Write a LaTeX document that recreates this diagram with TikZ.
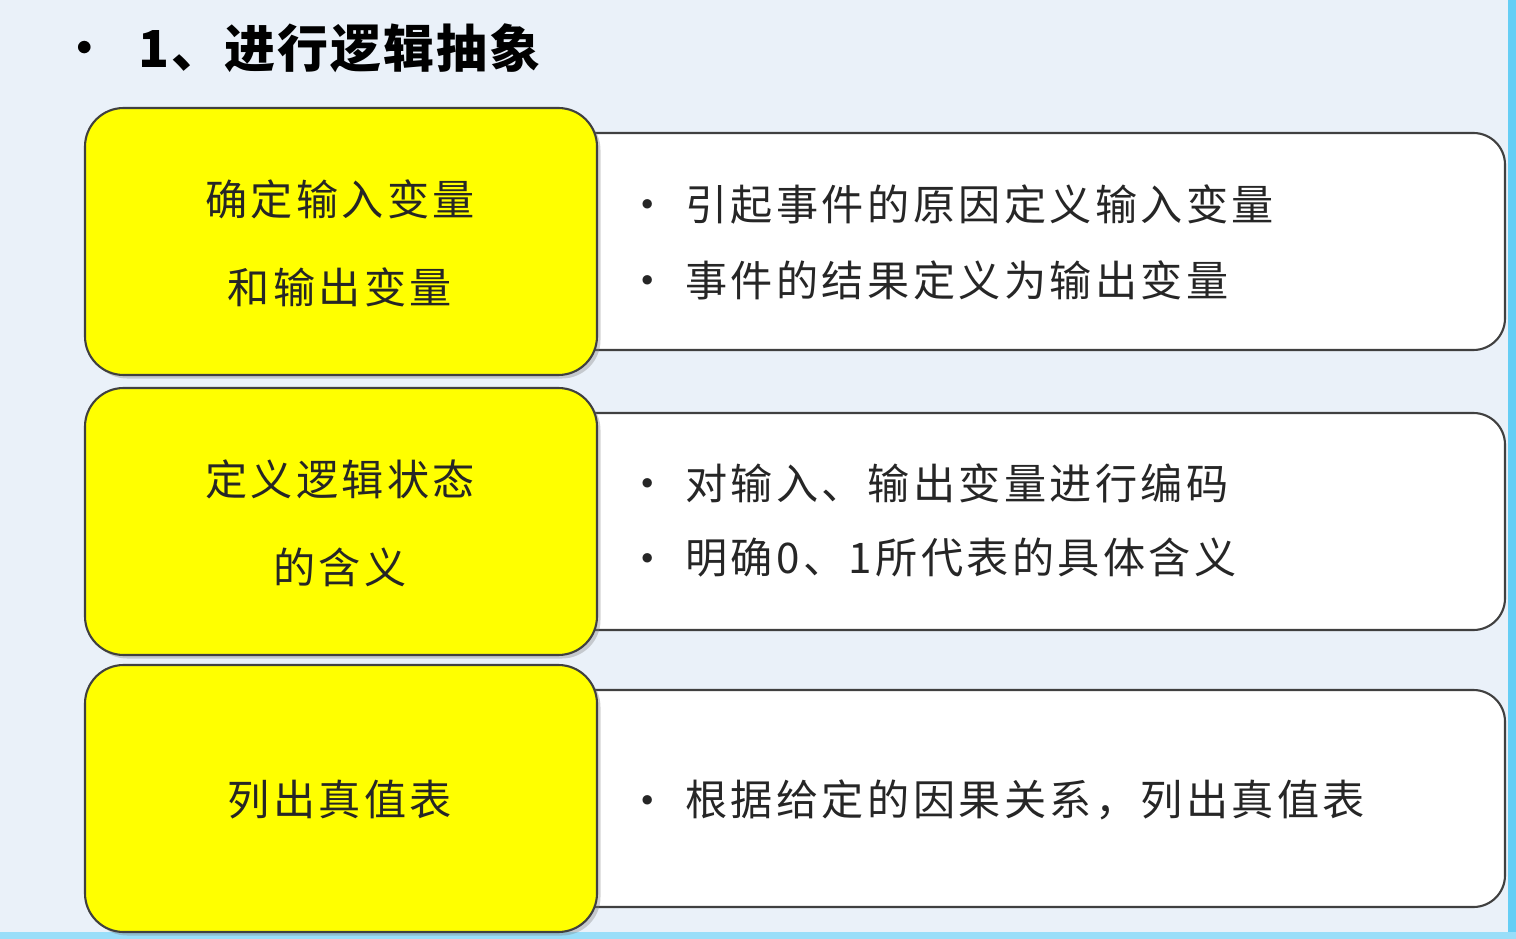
\documentclass[tikz,border=0pt]{standalone}
\usepackage{fontspec}
\newfontfamily\cjk[LetterSpace=8]{Noto Sans CJK SC}
\newfontfamily\cjkt[LetterSpace=4]{Noto Sans CJK SC}
\usetikzlibrary{shadows}
\definecolor{bg}{HTML}{EAF1F9}
\definecolor{ylw}{HTML}{FFFF00}
\tikzset{
 ybox/.style={draw=black!75,line width=1.2pt,fill=ylw,rounded corners=22pt,drop shadow={opacity=0.35,shadow xshift=2pt,shadow yshift=-2pt}},
 wbox/.style={draw=black!75,line width=1.2pt,fill=white,rounded corners=18pt},
 ytxt/.style={font=\cjk\fontsize{24}{28}\selectfont,align=center,text=black!85},
 wtxt/.style={font=\cjk\fontsize{24}{28}\selectfont,anchor=west,text=black!85},
 bul/.style={font=\fontsize{24}{28}\selectfont,text=black!85},
}
\begin{document}
\begin{tikzpicture}[x=0.02cm,y=-0.02cm]
\useasboundingbox (0,0) rectangle (1516,939);
\fill[bg] (0,0) rectangle (1516,939);
\fill[cyan!60] (1508,0) rectangle (1516,939);
\fill[cyan!40] (0,932) rectangle (1516,939);
\node[font=\fontsize{32}{34}\selectfont] (tb) at (85,52) {•};
\node[font=\cjkt\bfseries\fontsize{29}{32}\selectfont,anchor=west,inner sep=0pt] (title) at (138,48) {1、进行逻辑抽象};
\foreach \t/\yl/\rt in {108/{确定输入变量\\[22pt]和输出变量}/{a},388/{定义逻辑状态\\[22pt]的含义}/{b},665/{列出真值表}/{c}}{
  \path[wbox] (560,\t+25) rectangle (1505,\t+242);
  \path[ybox] (85,\t) rectangle (597,\t+267);
  \node[ytxt] (y\rt) at (340,\t+135) {\yl};
}
\foreach \y/\s/\n in {204/引起事件的原因定义输入变量/a1,280/事件的结果定义为输出变量/a2,483/对输入、输出变量进行编码/b1,558/明确0、1所代表的具体含义/b2,800/根据给定的因果关系，列出真值表/c1}{
  \node[bul] (p\n) at (648,\y+4) {•};
  \node[wtxt,inner sep=0pt] (\n) at (685,\y) {\s};
}
\end{tikzpicture}
\end{document}
